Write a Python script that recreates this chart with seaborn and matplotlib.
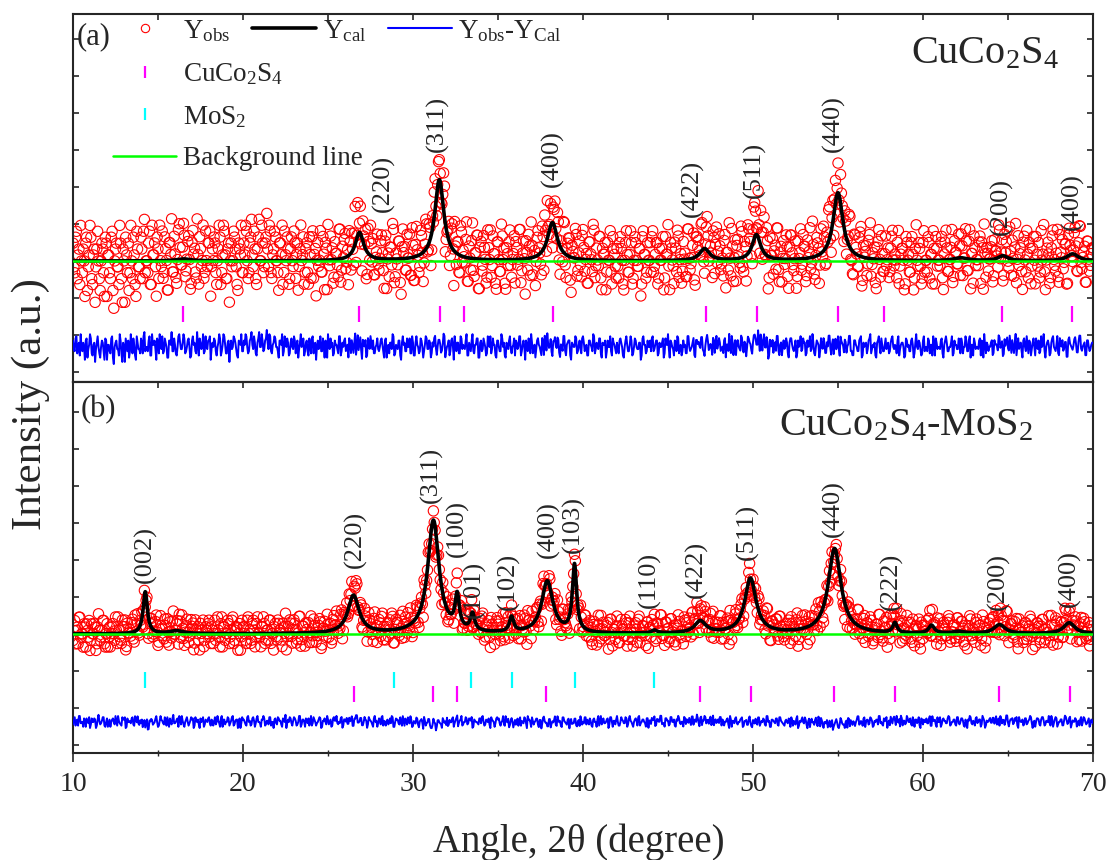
import numpy as np
import matplotlib
matplotlib.use('Agg')
import matplotlib.pyplot as plt
from matplotlib.lines import Line2D
from matplotlib.ticker import MultipleLocator, NullFormatter
import seaborn as sns

# ------------------------------------------------------------------ data
two_theta_start = 10.0
two_theta_step = 0.1             # main grid; *_half lists sit half a step later
background_level = 3000          # a.u.
residual_scale = 0.36            # display scale of Yobs-Ycal

# ---- panel (a): CuCo2S4
peaks_a_pos = [16.5, 26.85, 31.55, 38.2, 47.15, 50.2, 55.0, 62.2, 64.7, 68.8]
peaks_a_cal = [55, 760, 2190, 1030, 325, 700, 1840, 80, 135, 190]
peaks_a_obs = [55, 850, 2250, 1150, 450, 1200, 2000, 80, 250, 300]
peaks_a_fwhm = [1.0, 0.6, 0.65, 0.7, 0.7, 0.6, 0.7, 1.0, 0.7, 0.8]
noise_a_unit = 160
noise_a = [
    3, -2, 5, 1, -4, 0, 2, -6, 4, -1, 6, -3, 1, -7, 2, 0, -5, 3, -2, 4,
    -6, 1, -3, 5, -8, 2, -1, -4, 3, -7, 0, 4, -2, -5, 6, -3, 1, -6, 2, -1,
    4, -3, 7, 0, -2, 5, -4, 1, 3, -6, 2, 6, -1, -3, 4, 0, -5, 3, 7, -2,
    1, -4, 5, 2, -1, 6, -3, 0, 4, -5, 3, 1, -2, 7, -4, 2, 0, -3, 5, -1,
    3, -6, 2, 4, -2, 0, 6, -4, 1, 5, -3, 2, -7, 3, 0, 4, -1, -5, 2, 6,
    -2, 1, 5, -3, 3, 7, -1, 2, -4, 4, 0, 6, -2, 3, 8, -1, 5, -3, 2, 4,
    0, -5, 3, 6, -2, 1, 4, -4, 2, 0, 5, -3, 3, -1, 6, 1, -4, 2, -2, 4,
    -3, 5, 1, -6, 3, 0, -2, 4, -5, 2, 6, -1, 0, -4, 3, 1, -3, 5, -2, 0,
    4, -1, -5, 2, 3, -3, 6, 0, -2, 4, -6, 1, 3, -4, 2, 5, -1, -3, 0, 4,
    -2, 3, 1, -5, 4, 0, -3, 2, 6, -4, 1, -1, 3, -6, 5, 2, -2, 0, 4, -3,
    2, -4, 5, 0, -2, 3, -5, 1, 4, -1, 2, -3, 0, 5, -4, 3, 1, -2, 6, -5,
    0, 3, -2, 4, -6, 1, 2, -3, 5, -1, 0, 3, -4, 2, -2, 6, -3, 1, 4, -5,
    3, -1, 2, -4, 5, 0, -3, 4, 1, -5, 3, -2, 6, 0, -4, 2, -1, 5, -3, 1,
    -4, 2, 0, 5, -2, 3, -6, 1, 4, -3, 2, 0, -5, 3, 1, -2, 4, -4, 2, 6,
    -1, 3, -5, 2, 0, 4, -3, 1, -2, 5, -4, 2, 3, -6, 1, 0, 4, -2, 3, -3,
    5, -2, 1, -4, 3, 0, 6, -3, 2, -1, 4, -5, 1, 3, -2, 0, 5, -4, 2, -1,
    2, -3, 4, 0, -5, 3, 1, -2, 5, -4, 0, 3, -1, 2, -6, 4, 1, -3, 3, 0,
    -2, 5, -1, 3, -4, 2, 0, 4, -3, 1, 6, -5, 2, -1, 3, -2, 4, 0, -4, 3,
    1, -3, 5, -2, 0, 4, -5, 3, 2, -1, 4, -3, 0, 5, -2, 1, -4, 3, 2, -1,
    4, -2, 0, 3, -5, 1, 6, -3, 2, 0, -4, 3, -1, 5, -2, 2, -5, 4, 1, -3,
    0, 3, -2, 5, -4, 1, 2, -1, 4, -6, 3, 0, -3, 2, 5, -2, 1, -4, 3, 0,
    2, -5, 4, 1, -2, 3, -3, 0, 5, -1, 2, -4, 3, 1, -2, 6, -3, 0, 2, -5,
    4, -1, 2, -3, 0, 5, -4, 3, 1, -2, 4, -5, 2, 0, 3, -3, 1, 5, -2, -4,
    3, 0, -2, 4, -5, 2, 1, -3, 3, 6, -1, 0, -4, 2, 5, -3, 1, -2, 4, 0,
    -3, 2, 5, -1, 0, 3, -4, 1, 2, -5, 4, 0, -2, 3, 1, -3, 6, -1, 2, -4,
    3, -2, 0, 4, -3, 1, 5, -4, 2, 0, -1, 4, -5, 3, 2, -2, 0, 5, -3, 1,
    -1, 4, -3, 2, 0, 5, -2, 3, -5, 1, 4, -1, 0, 3, -4, 2, 6, -3, 1, 0,
    2, -4, 3, 1, -2, 4, 0, -5, 3, 2, -1, 5, -3, 0, 2, -4, 4, 1, -2, 3,
    0, 5, -3, 2, -1, 4, -4, 1, 3, -2, 0, 6, -5, 2, 1, -3, 4, 0, -2, 5,
    -4, 1, 3, -1, 2, -5, 4, 0, -2, 3, 1, -3, 5, -1, 0, 2, -4, 3, -2, 1,
    2,
]
noise_a_half = [
    -1, 4, -3, 2, 6, -2, 0, 3, -5, 1, 4, -4, 2, -1, 5, -3, 0, 2, -6, 3,
    1, -2, 4, -5, 0, 3, -1, 6, -3, 2, -7, 1, 3, -2, 0, 4, -4, 5, -1, -3,
    2, 5, -2, 0, 3, -4, 6, 1, -1, 4, -3, 0, 5, -2, 2, -5, 3, 1, -2, 4,
    -3, 0, 6, -1, 2, 4, -2, 3, 0, -4, 5, 2, -3, 1, 4, -1, 6, -2, 0, 3,
    5, -1, 0, 3, -4, 2, 4, -2, 6, 1, -3, 3, 0, -1, 5, 2, -4, 3, 1, -2,
    3, 6, 0, -2, 4, 1, 5, -3, 2, 7, 0, 3, -1, 4, 2, 6, -2, 1, 5, 0,
    -2, 3, 1, -4, 5, 0, 2, -3, 4, -1, 3, 1, -5, 2, 0, 4, -2, 3, -4, 1,
    4, -3, 2, 0, -1, 5, -2, 1, 3, -5, 0, 4, 2, -3, 1, -1, 5, -4, 2, 3,
    -2, 1, 4, -3, 0, 2, -4, 5, 1, -2, 3, 0, -5, 4, -1, 2, 3, -3, 1, -1,
    0, 4, -2, 3, -5, 1, 2, -1, 5, -3, 0, 3, -4, 2, 1, -2, 4, 0, -3, 5,
    -4, 2, 1, -3, 4, 0, -2, 5, -1, 3, -5, 2, 4, -1, 0, 3, -3, 1, 5, -2,
    1, -4, 3, 0, 5, -2, 2, -3, 4, 1, -1, 6, -4, 0, 3, -2, 1, 4, -5, 2,
    -2, 4, 0, -3, 2, 5, -1, 1, -4, 3, 0, -2, 4, 2, -5, 1, 3, -1, 0, 4,
    3, -1, 5, -4, 1, 0, 3, -2, 2, 6, -3, 1, -1, 4, 0, -4, 2, 5, -2, 1,
    0, -3, 2, 4, -1, 3, -5, 0, 5, -2, 1, 3, -4, 2, 0, 5, -3, 1, -1, 4,
    2, 0, -4, 3, 1, -2, 5, -1, 0, 4, -3, 2, 1, -5, 3, 0, -2, 4, 1, -3,
    -1, 3, 2, -4, 0, 5, -2, 1, 3, -3, 4, 0, -1, 2, -4, 5, 1, -2, 0, 3,
    4, -2, 1, 3, -3, 0, 2, -5, 4, 1, -1, 3, 0, -4, 2, 5, -3, 1, -2, 0,
    -3, 5, 0, -1, 2, -4, 3, 1, 0, 4, -2, -5, 3, 2, -1, 0, 4, -3, 5, 1,
    2, -1, -3, 4, 1, -2, 0, 5, -4, 3, 2, 0, -2, 4, -3, 1, -1, 3, 0, -5,
    3, 1, -2, 0, 4, -3, 5, -1, 2, -4, 0, 3, 1, -2, 5, -4, 2, 0, -1, 4,
    -3, 2, 4, -1, 0, -5, 3, 1, -2, 4, 2, -3, 0, 5, -1, 2, -4, 3, 1, -2,
    0, 4, -3, 2, 5, -1, 1, -4, 3, 0, -2, 4, 1, -3, 2, 0, 5, -2, -4, 3,
    1, -2, 3, 5, -4, 0, 2, -1, 4, -3, 1, 2, -5, 3, 0, 4, -2, 1, -1, 2,
    -2, 4, 0, 1, -3, 5, -1, 2, 0, -4, 3, 1, -2, 4, -5, 2, 0, 3, -1, -3,
    5, 0, -2, 3, 1, -4, 2, 4, -1, 0, 3, -3, 1, 5, -2, 0, 2, -4, 3, 1,
    -1, 2, 4, -3, 0, 3, -2, 5, 1, -4, 2, 0, -1, 4, 3, -5, 1, 2, -2, 0,
    3, -3, 1, 0, 5, -1, 2, -4, 0, 4, -2, 1, 3, -3, 6, 0, -1, 2, -5, 4,
    -2, 1, 3, -4, 2, 0, 4, -1, -3, 5, 1, -2, 0, 3, -4, 2, 5, -1, 1, -3,
    4, 0, -2, 2, -5, 3, 1, -1, 0, 4, -3, 2, 5, -2, 1, -4, 3, 0, -1, 2,
]
bragg_a_cuco2s4 = [16.47, 26.82, 31.59, 33.0, 38.24, 47.24, 50.24, 55.0, 57.71, 64.65, 68.76]
hkl_a = ['(220)', '(311)', '(400)', '(422)', '(511)', '(440)', '(200)', '(400)']
hkl_a_x = [28.24, 31.41, 38.18, 46.41, 50.06, 54.71, 64.59, 68.76]
hkl_a_y = [4324, 5946, 5000, 4189, 4703, 5946, 3703, 3838]

# ---- panel (b): CuCo2S4-MoS2
peaks_b_pos = [14.25, 16.1, 26.5, 31.2, 32.6, 33.5, 35.8, 37.9, 39.5, 44.2,
               46.9, 49.85, 54.8, 58.35, 60.5, 62.1, 64.5, 68.6]
peaks_b_cal = [1135, 80, 1027, 3054, 892, 459, 405, 1405, 1811, 80,
               324, 1486, 2297, 270, 216, 54, 243, 297]
peaks_b_obs = [900, 80, 1100, 2850, 950, 480, 340, 1350, 1700, 140,
               460, 1450, 2050, 420, 200, 54, 330, 330]
peaks_b_fwhm = [0.3, 1.0, 0.8, 0.8, 0.3, 0.3, 0.3, 0.8, 0.3, 0.4,
                0.8, 0.8, 0.9, 0.3, 0.4, 0.8, 0.8, 0.8]
noise_b_unit = 90
noise_b = [
    -2, 4, 1, -3, 5, 0, -4, 2, 3, -1, -5, 3, 0, 2, -3, 6, -2, 1, 4, -4,
    3, -1, -4, 2, 0, 5, -3, 1, -2, 4, 2, -5, 3, 0, -1, 4, -3, 2, 5, -2,
    0, -3, 4, 1, -5, 2, 3, -2, 0, 5, -4, 1, 2, -1, 4, -3, 0, 3, -2, 6,
    -1, 2, -4, 3, 5, -2, 0, 4, -3, 1, 2, -5, 4, 0, -2, 3, 1, -4, 2, 0,
    4, -3, 1, 0, -2, 5, -1, 3, -4, 2, 0, 4, -3, 1, 5, -2, 2, -5, 3, -1,
    2, 0, -3, 5, 1, -2, 4, -4, 3, 0, -1, 2, 5, -3, 1, -2, 4, 0, -5, 3,
    -2, 3, 1, -4, 2, 6, -1, 0, 3, -3, 4, 1, -2, 5, -4, 2, 0, 3, -1, -3,
    5, -1, 2, -3, 0, 4, -5, 1, 3, -2, 2, 0, -4, 3, 1, 5, -2, -1, 4, -3,
    1, 3, -2, 0, 4, -4, 2, 5, -1, 3, -3, 0, 2, -5, 4, 1, -2, 3, 0, -4,
    3, -2, 5, 1, -3, 2, 0, -1, 4, -4, 3, 2, -2, 0, 5, -3, 1, 4, -1, 2,
    -3, 0, 4, -2, 1, 3, -5, 2, 0, 4, -1, -3, 5, 1, -2, 3, 0, -4, 2, 1,
    4, -2, 0, 3, -4, 1, 5, -1, 2, -3, 0, 4, -2, 3, 1, -5, 2, 0, -1, 3,
    -1, 5, -3, 2, 0, -2, 4, 1, -4, 3, 2, -1, 0, 5, -3, 1, 3, -2, 4, -4,
    2, 0, -3, 4, 1, -1, 3, -5, 2, 0, 4, -2, 1, 3, -4, 2, -1, 5, 0, -3,
    3, -4, 1, 2, -2, 5, 0, -3, 4, 1, -1, 2, -5, 3, 0, 4, -2, 1, -3, 2,
    0, 4, -2, 1, 3, -3, 2, 0, -4, 5, 1, -2, 3, -1, 2, -5, 4, 0, 1, -2,
    5, -3, 0, 2, -1, 4, -4, 3, 1, -2, 0, 3, -3, 5, -1, 2, 0, -4, 3, 1,
    -2, 1, 4, -3, 2, 0, 5, -1, -4, 3, 1, -2, 4, 0, -3, 2, 5, -1, 0, -4,
    3, 2, -1, 0, 4, -3, 1, 5, -2, 2, -4, 0, 3, 1, -2, 4, -1, -3, 2, 0,
    -1, 4, 2, -3, 0, 3, -5, 2, 1, -1, 4, -2, 0, 3, -4, 1, 2, -2, 5, -3,
    2, -1, 0, 4, -3, 1, 3, -2, 5, 0, -4, 2, 1, -1, 3, -3, 4, 0, -2, 1,
    0, 3, -4, 2, 1, -2, 5, -3, 0, 4, -1, 2, -5, 3, 1, 0, -2, 4, -3, 2,
    4, -2, 1, 0, -3, 3, 2, -4, 1, 5, -2, 0, 3, -1, -4, 2, 4, -3, 0, 1,
    -3, 2, 5, -1, 0, 3, -4, 2, -2, 4, 1, -3, 0, 2, 5, -1, -2, 3, 1, -5,
    1, 4, -2, 3, -4, 0, 2, 5, -3, 1, -1, 3, 0, -2, 4, -4, 2, 1, -3, 3,
    -2, 0, 3, -1, 5, -3, 1, 2, -4, 0, 4, -2, 3, 1, -1, 5, -3, 0, 2, -2,
    4, -1, 0, 3, -3, 2, -5, 1, 4, -2, 0, 3, -1, 2, -4, 5, 1, -3, 0, 2,
    -1, 3, -2, 4, 0, -4, 2, 1, -3, 5, -1, 0, 2, -2, 3, 4, -5, 1, 0, -3,
    3, -2, 1, 5, -1, 0, -4, 3, 2, -3, 4, 1, -2, 0, 5, -3, 2, -1, 4, -4,
    0, 2, -3, 1, 4, -2, 3, -5, 1, 0, 2, -1, -3, 4, 0, 3, -2, 1, -4, 2,
    -1,
]
noise_b_half = [
    1, -3, 2, 5, -1, 0, 3, -4, 1, 4, -2, 0, 3, -5, 2, 1, -1, 4, -3, 0,
    -4, 2, 0, 3, -2, 1, 5, -1, -3, 2, 4, -4, 0, 1, 3, -2, 5, 0, -1, 2,
    3, 0, -2, 4, -5, 1, 2, -1, 3, 0, -3, 5, 1, -2, 2, 4, -4, 0, 3, -1,
    0, 3, 5, -2, 1, -4, 2, 0, -1, 4, 3, -3, 1, 2, -5, 0, 4, -2, 1, 3,
    -1, 2, -3, 4, 0, 1, -4, 5, 2, -2, 0, 3, -1, 4, -3, 1, 2, 0, -5, 4,
    2, -2, 4, 0, -3, 3, 1, -1, 5, 0, -4, 2, 3, -2, 1, 4, -3, 0, 2, -1,
    4, 1, -2, 3, 0, -5, 2, 4, -1, 1, 3, -3, 0, 5, -2, 2, -4, 1, 3, 0,
    -3, 4, 0, -1, 2, 3, -4, 1, 0, 5, -2, 2, -3, 4, 1, -1, 0, 3, -5, 2,
    0, -2, 3, 1, -4, 2, 5, -1, 0, 3, -3, 4, 1, -2, 2, 0, -4, 5, 1, -1,
    2, 4, -3, 0, 1, -2, 3, 5, -4, 0, 2, -1, 4, -3, 1, 3, -2, 0, 5, -4,
    1, -1, 3, -4, 2, 0, 5, -2, 1, 4, -3, 0, 2, -5, 3, 1, -1, 4, 0, -2,
    -3, 2, 0, 4, -1, 3, -4, 1, 5, -2, 0, 3, -1, 2, 4, -4, 1, 0, -2, 3,
    4, 0, -2, 1, 3, -5, 2, 0, -1, 4, 3, -3, 1, -2, 5, 0, -4, 2, 1, -1,
    -2, 3, 1, -3, 0, 4, -1, 5, 2, -4, 1, 0, 3, -2, 2, -5, 4, 1, 0, -3,
    3, -1, 0, 5, -3, 2, 1, -4, 4, 0, -2, 3, 1, -1, 0, 4, -3, 2, 5, -2,
    -1, 4, 2, -2, 1, -4, 3, 0, 2, -3, 5, 1, -1, 0, 3, -2, 4, -4, 1, 2,
    0, -3, 4, 1, -1, 3, -2, 5, 0, -4, 2, 1, 4, -3, 0, 2, -1, 3, -5, 1,
    3, 1, -4, 2, 0, 5, -2, -1, 3, 1, -3, 4, 0, 2, -4, 1, 3, -2, 0, 4,
    -2, 0, 3, -3, 4, 1, -1, 2, -5, 3, 0, 4, -2, 1, 2, -3, 5, 0, -1, 2,
    4, -3, 1, 0, 2, -2, 5, -4, 1, 3, -1, 0, 2, 4, -3, 1, -2, 3, 0, -4,
    1, 3, -2, 4, -1, 0, 2, -3, 5, 1, -4, 2, 0, 3, -2, 4, 1, -1, -3, 2,
    -1, 2, 4, -3, 0, 3, -5, 1, 2, 0, 4, -2, 1, -4, 3, 0, 2, -1, 5, -3,
    2, -4, 1, 3, 0, -2, 4, -1, 3, 2, -3, 5, 0, -1, 1, -4, 3, 2, -2, 0,
    0, 5, -2, 1, -3, 4, 0, 2, -1, 3, -4, 1, 2, -2, 5, 0, -3, 1, 4, -1,
    -3, 1, 2, 0, 4, -1, -4, 3, 1, -2, 5, 0, 3, -3, 1, 2, -1, 4, -5, 2,
    2, 0, -1, 3, -3, 5, 1, -2, 4, 0, -4, 2, 1, -1, 3, 4, -2, 0, 2, -3,
    4, -2, 3, 1, -4, 0, 2, 5, -1, 1, -3, 4, 0, 2, -2, 3, -5, 1, 0, 3,
    -1, 3, 0, -3, 2, 4, -2, 1, 0, 5, -4, 2, 3, -1, 1, -3, 4, 0, 2, -2,
    3, -1, 2, 4, -5, 1, 0, 3, -2, 2, 4, -3, 1, 0, -1, 5, -4, 2, 3, -2,
    0, 2, -3, 5, 1, -1, 4, -2, 0, 3, -4, 1, 2, -3, 4, 0, -1, 3, -2, 1,
]
bragg_b_cuco2s4 = [26.5, 31.18, 32.6, 37.8, 46.88, 49.9, 54.78, 58.38, 64.48, 68.65]
bragg_b_mos2 = [14.24, 28.9, 33.4, 35.8, 39.5, 44.2]
hkl_b = ['(002)', '(220)', '(311)', '(100)', '(101)', '(102)', '(400)', '(103)',
         '(110)', '(422)', '(511)', '(440)', '(222)', '(200)', '(400)']
hkl_b_x = [14.24, 26.59, 31.06, 32.59, 33.59, 35.59, 37.94, 39.41,
           43.88, 46.65, 49.65, 54.71, 58.12, 64.41, 68.59]
hkl_b_y = [4378, 4784, 6541, 5081, 3432, 3649, 5054, 5189,
           3703, 3973, 5000, 5622, 3649, 3649, 3730]

# ------------------------------------------------------------------ style
RED, BLUE, MAGENTA, CYAN, GREEN = '#FF0000', '#0000FF', '#FF00FF', '#00FFFF', '#00FF00'

sns.set_style('ticks')
plt.rcParams['font.family'] = ['Liberation Serif', 'DejaVu Serif']
plt.rcParams['mathtext.fontset'] = 'custom'
plt.rcParams['mathtext.rm'] = 'Liberation Serif'
plt.rcParams['mathtext.it'] = 'Liberation Serif:italic'
plt.rcParams['mathtext.bf'] = 'Liberation Serif:bold'
plt.rcParams['axes.linewidth'] = 1.5


def profile(x, pos, height, fwhm):
    y = np.zeros_like(x, dtype=float)
    for p, h, w in zip(pos, height, fwhm):
        y += h / (1.0 + ((x - p) / (w / 2.0)) ** 2)
    return y


fig = plt.figure(figsize=(11.13, 8.6), dpi=100)
gs = fig.add_gridspec(2, 1, left=73 / 1113, right=1093 / 1113,
                      top=1 - 14 / 860, bottom=1 - 753 / 860,
                      hspace=0, height_ratios=[368, 371])
ax_a = fig.add_subplot(gs[0])
ax_b = fig.add_subplot(gs[1], sharex=ax_a)


def draw_panel(ax, pos, cal, obs, fwhm, noise, noise_half, unit, bragg_sets,
               hkl, hkl_x, hkl_y, res_offset):
    x1 = two_theta_start + two_theta_step * np.arange(len(noise))
    x2 = two_theta_start + two_theta_step / 2 + two_theta_step * np.arange(len(noise_half))
    x_obs = np.concatenate([x1, x2])
    nz = np.concatenate([np.asarray(noise, float), np.asarray(noise_half, float)])
    order = np.argsort(x_obs)
    x_obs, nz = x_obs[order], nz[order]
    y_obs = background_level + profile(x_obs, pos, obs, fwhm) + unit * nz
    y_cal_obs = background_level + profile(x_obs, pos, cal, fwhm)
    diff = (y_obs - y_cal_obs) * residual_scale + res_offset
    x_fine = np.linspace(10, 70, 6001)
    y_cal = background_level + profile(x_fine, pos, cal, fwhm)

    sns.scatterplot(x=x_obs, y=y_obs, ax=ax, marker='o', s=55,
                    facecolors='none', edgecolor=RED, linewidth=0.8,
                    zorder=2, legend=False)
    sns.lineplot(x=x_fine, y=y_cal, ax=ax, color='black', lw=2.6,
                 estimator=None, sort=False, zorder=3, legend=False)
    ax.axhline(background_level, color=GREEN, lw=1.8, zorder=4)
    sns.lineplot(x=x_obs, y=diff, ax=ax, color=BLUE, lw=1.4,
                 estimator=None, sort=False, zorder=3, legend=False)
    for positions, ypos, col in bragg_sets:
        sns.scatterplot(x=positions, y=[ypos] * len(positions), ax=ax,
                        marker='|', s=135, linewidth=1.6, color=col,
                        edgecolor=col, zorder=3, legend=False)
    for t, xx, yy in zip(hkl, hkl_x, hkl_y):
        ax.text(xx, yy, t, rotation=90, ha='center', va='bottom',
                fontsize=19, zorder=5)


draw_panel(ax_a, peaks_a_pos, peaks_a_cal, peaks_a_obs, peaks_a_fwhm,
           noise_a, noise_a_half, noise_a_unit, [(bragg_a_cuco2s4, 1567, MAGENTA)],
           hkl_a, hkl_a_x, hkl_a_y, res_offset=675)
draw_panel(ax_b, peaks_b_pos, peaks_b_cal, peaks_b_obs, peaks_b_fwhm,
           noise_b, noise_b_half, noise_b_unit,
           [(bragg_b_mos2, 1757, CYAN), (bragg_b_cuco2s4, 1378, MAGENTA)],
           hkl_b, hkl_b_x, hkl_b_y, res_offset=621)

ax_a.set_ylim(-271, 9676)
ax_b.set_ylim(-217, 9812)
ax_b.set_xlim(10, 70)

for ax in (ax_a, ax_b):
    ax.set_xlabel('')
    ax.set_ylabel('')
    ax.yaxis.set_major_locator(MultipleLocator(1000))
    ax.yaxis.set_major_formatter(NullFormatter())
    ax.tick_params(axis='y', which='both', left=True, right=True,
                   direction='in', length=4, width=1.2, labelleft=False)
    ax.xaxis.set_major_locator(MultipleLocator(10))
    ax.xaxis.set_minor_locator(MultipleLocator(5))
    for s in ax.spines.values():
        s.set_visible(True)
        s.set_linewidth(1.5)

ax_a.tick_params(axis='x', which='both', top=True, bottom=False, direction='in',
                 length=4, width=1.2, labelbottom=False, labeltop=False)
ax_b.tick_params(axis='x', which='major', top=False, bottom=True, direction='inout',
                 length=13, width=1.2, labelsize=20, pad=7)
ax_b.tick_params(axis='x', which='minor', top=False, bottom=True, direction='inout',
                 length=4, width=1.0)
sec = ax_b.secondary_xaxis('top')
sec.xaxis.set_major_locator(MultipleLocator(5))
sec.tick_params(axis='x', direction='in', length=4, width=1.2, labeltop=False)

# panel tags and titles
ax_a.text(0.004, 0.9375, '(a)', transform=ax_a.transAxes, fontsize=22,
          ha='left', va='center')
ax_b.text(0.007, 0.925, '(b)', transform=ax_b.transAxes, fontsize=22,
          ha='left', va='center')
ax_a.text(63.65, 8352, r'CuCo$_{2}$S$_{4}$', fontsize=29, ha='center', va='baseline')
ax_b.text(59.0, 8379, r'CuCo$_{2}$S$_{4}$-MoS$_{2}$', fontsize=29, ha='center',
          va='baseline')

# legends
h_obs = Line2D([], [], ls='none', marker='o', ms=6, mfc='none', mec=RED, mew=0.8)
h_cal = Line2D([], [], color='black', lw=2.6)
h_diff = Line2D([], [], color=BLUE, lw=1.5)
leg1 = ax_a.legend([h_obs, h_cal, h_diff],
                   [r'Y$_{\mathrm{obs}}$', r'Y$_{\mathrm{cal}}$',
                    r'Y$_{\mathrm{obs}}$-Y$_{\mathrm{Cal}}$'],
                   ncol=3, loc='center left', bbox_to_anchor=(0.039, 0.954),
                   frameon=False, fontsize=19.5, handlelength=2.35,
                   handletextpad=0.25, columnspacing=0.8, borderpad=0,
                   borderaxespad=0)
ax_a.add_artist(leg1)
h_cu = Line2D([], [], ls='none', marker='|', ms=9, mew=1.6, color=MAGENTA)
h_mo = Line2D([], [], ls='none', marker='|', ms=9, mew=1.6, color=CYAN)
h_bg = Line2D([], [], color=GREEN, lw=1.8)
ax_a.legend([h_cu, h_mo, h_bg],
            [r'CuCo$_{2}$S$_{4}$', r'MoS$_{2}$', 'Background line'],
            loc='center left', bbox_to_anchor=(0.039, 0.722), frameon=False,
            fontsize=19.5, handlelength=2.35, handletextpad=0.25,
            labelspacing=0.62, borderpad=0, borderaxespad=0)

# axis titles
fig.text(31 / 1113, 1 - 404 / 860, 'Intensity (a.u.)', rotation=90,
         fontsize=31, ha='center', va='center')
fig.text(0.52, 1 - 852 / 860, r'Angle, 2θ (degree)', fontsize=28,
         ha='center', va='baseline')

fig.savefig('out.png', dpi=100)
